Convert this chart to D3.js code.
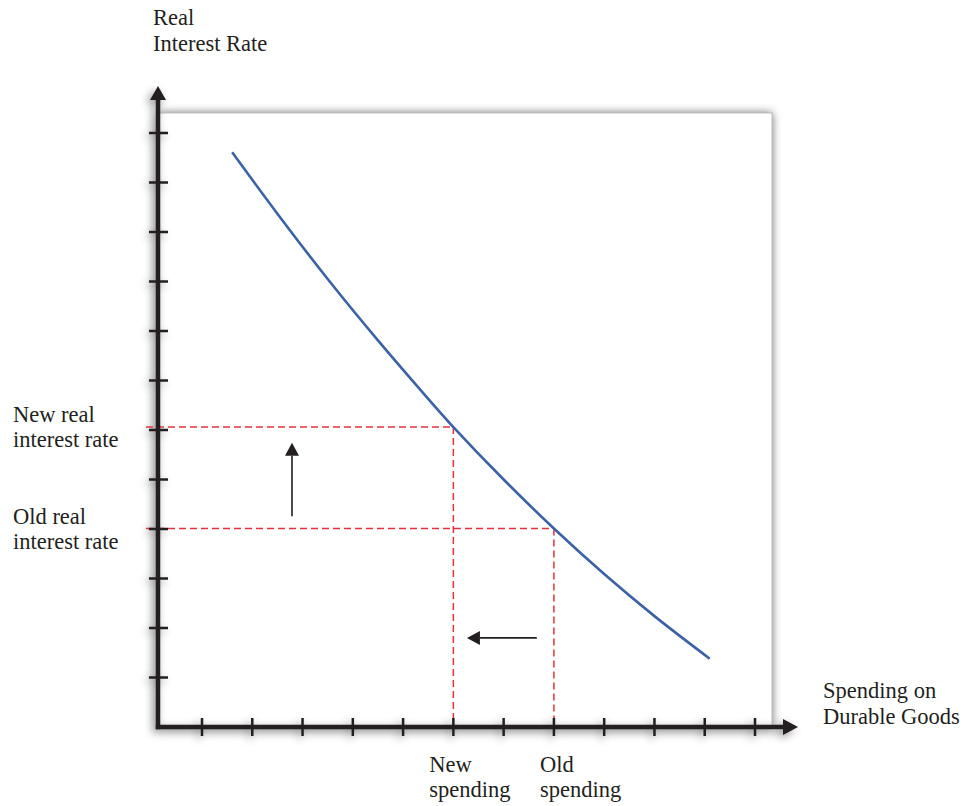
<!DOCTYPE html>
<html>
<head>
<meta charset="utf-8">
<script src="https://cdn.jsdelivr.net/npm/d3@7"></script>
<style>
  html, body { margin: 0; padding: 0; background: #fff; }
  svg { display: block; }
  text { font-family: "Liberation Serif", "Times New Roman", serif; fill: #231f20; }
</style>
</head>
<body>
<script>
// ---- data ----
const xTicks = [1, 2, 3, 4, 5, 6, 7, 8, 9, 10, 11, 12];
const yTicks = [1, 2, 3, 4, 5, 6, 7, 8, 9, 10, 11, 12];
const curveX = [1.6, 2.5, 3.5, 4.5, 5.5, 6, 7, 8, 9, 10, 11.1];
const curveY = [11.61, 10.37, 9.05, 7.81, 6.63, 6.06, 5.0, 4.01, 3.09, 2.24, 1.38];
const rateLevels = [6.06, 4.01];      // new, old real interest rate
const rateLabels = [["New real", "interest rate"], ["Old real", "interest rate"]];
const spendLevels = [6, 8];           // new, old spending
const spendLabels = [["New", "spending"], ["Old", "spending"]];
const upArrow = { x: [2.79, 2.79], y: [4.26, 5.74] };
const leftArrow = { x: [7.66, 6.27], y: [1.8, 1.8] };
const yTitle = ["Real", "Interest Rate"];
const xTitle = ["Spending on", "Durable Goods"];

// ---- layout ----
const W = 974, H = 806;
const x = d3.scaleLinear().domain([1, 12]).range([202, 755]);
const y = d3.scaleLinear().domain([0, 12]).range([727, 133]);
const x0 = 158, y0 = 727;             // axis origin (pixels)
const boxTop = 113, boxRight = 772;
const axisColor = "#231f20";

const svg = d3.select("body").append("svg").attr("width", W).attr("height", H);
const defs = svg.append("defs");
defs.append("filter").attr("id", "blur").attr("x", "-20%").attr("y", "-20%")
  .attr("width", "140%").attr("height", "140%")
  .append("feGaussianBlur").attr("stdDeviation", 5);
defs.append("filter").attr("id", "blur2").attr("x", "-50%").attr("y", "-50%")
  .attr("width", "200%").attr("height", "200%")
  .append("feGaussianBlur").attr("stdDeviation", 4);

// plot box shadow + box
svg.append("rect").attr("x", x0).attr("y", boxTop)
  .attr("width", boxRight - x0).attr("height", y0 - boxTop)
  .attr("fill", "#55555c").attr("opacity", 0.9).attr("filter", "url(#blur)");
svg.append("rect").attr("x", x0).attr("y", boxTop)
  .attr("width", boxRight - x0).attr("height", y0 - boxTop)
  .attr("fill", "#fff").attr("stroke", "#bdbdc2").attr("stroke-width", 1);

// axes drawing function (used for shadow and real)
function drawAxes(g, color) {
  g.append("line").attr("x1", x0).attr("y1", y0 + 2.25).attr("x2", x0).attr("y2", 98)
    .attr("stroke", color).attr("stroke-width", 4.5);
  g.append("path").attr("d", `M${x0 - 8},100 L${x0},86 L${x0 + 8},100 Z`).attr("fill", color);
  g.append("line").attr("x1", x0 - 2.25).attr("y1", y0).attr("x2", 785).attr("y2", y0)
    .attr("stroke", color).attr("stroke-width", 4.5);
  g.append("path").attr("d", `M783,${y0 - 8} L798,${y0} L783,${y0 + 8} Z`).attr("fill", color);
  g.selectAll(".yt").data(yTicks).enter().append("line")
    .attr("x1", x0 - 9).attr("x2", x0 + 10)
    .attr("y1", d => y(d)).attr("y2", d => y(d))
    .attr("stroke", color).attr("stroke-width", 2.5);
  g.selectAll(".xt").data(xTicks).enter().append("line")
    .attr("y1", y0 - 9).attr("y2", y0 + 9)
    .attr("x1", d => x(d)).attr("x2", d => x(d))
    .attr("stroke", color).attr("stroke-width", 2.5);
}
const shadowG = svg.append("g").attr("filter", "url(#blur2)").attr("opacity", 0.65)
  .attr("transform", "translate(-3,3)");
drawAxes(shadowG, "#555");

// dashed guides
const dashColor = "#e6323c";
const guides = svg.append("g").attr("stroke", dashColor).attr("stroke-width", 1.5)
  .attr("stroke-dasharray", "7,4").attr("fill", "none");
rateLevels.forEach((r, i) => {
  const s = spendLevels[i];
  guides.append("line").attr("x1", x0 - 12).attr("x2", x(s)).attr("y1", y(r)).attr("y2", y(r));
  guides.append("line").attr("x1", x(s)).attr("x2", x(s)).attr("y1", y(r)).attr("y2", y0);
});

// demand curve
const pts = curveX.map((d, i) => [d, curveY[i]]);
svg.append("path").datum(pts)
  .attr("d", d3.line().x(d => x(d[0])).y(d => y(d[1])).curve(d3.curveCatmullRom))
  .attr("fill", "none").attr("stroke", "#3b62a6").attr("stroke-width", 2.6)
  .attr("stroke-linecap", "butt");

// axes
drawAxes(svg.append("g"), axisColor);

// shift arrows
function arrow(a) {
  const x1 = x(a.x[0]), y1 = y(a.y[0]), x2 = x(a.x[1]), y2 = y(a.y[1]);
  const ang = Math.atan2(y2 - y1, x2 - x1);
  const L = 13, Hw = 7;
  const bx = x2 - L * Math.cos(ang), by = y2 - L * Math.sin(ang);
  svg.append("line").attr("x1", x1).attr("y1", y1).attr("x2", bx).attr("y2", by)
    .attr("stroke", axisColor).attr("stroke-width", 1.6);
  const px = -Math.sin(ang) * Hw, py = Math.cos(ang) * Hw;
  svg.append("path")
    .attr("d", `M${x2},${y2} L${bx + px},${by + py} L${bx - px},${by - py} Z`)
    .attr("fill", axisColor);
}
arrow(upArrow);
arrow(leftArrow);

// labels
const fs = 22.5;
function multiline(lines, tx, ty, lh) {
  const t = svg.append("text").attr("font-size", fs);
  lines.forEach((l, i) => t.append("tspan").attr("x", tx).attr("y", ty + i * lh).text(l));
}
multiline(yTitle, 153, 25, 26);
multiline(xTitle, 823, 698, 26);
rateLevels.forEach((r, i) => multiline(rateLabels[i], 13, y(r) - 5, 25));
const spendOffsets = [-24, -14];
spendLevels.forEach((s, i) => multiline(spendLabels[i], x(s) + spendOffsets[i], 772, 25));
</script>
</body>
</html>
